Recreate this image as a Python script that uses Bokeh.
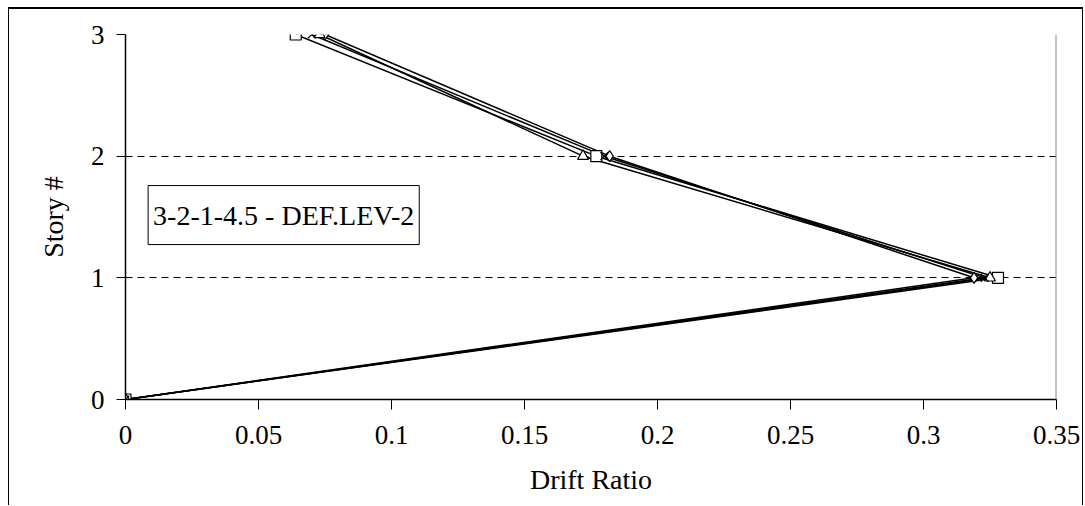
from bokeh.plotting import figure
from bokeh.models import FixedTicker, Label, Span, ColumnDataSource
from bokeh.embed import file_html
from bokeh.resources import INLINE

story = [0, 1, 2, 3]
drift_diamond = [0.0, 0.319, 0.182, 0.075]
drift_square = [0.0, 0.328, 0.177, 0.064]
drift_triangle = [0.0, 0.325, 0.172, 0.073]
drift_x = [0.0, 0.323, 0.180, 0.070]
x_ticks = [0, 0.05, 0.1, 0.15, 0.2, 0.25, 0.3, 0.35]
x_tick_labels = ["0", "0.05", "0.1", "0.15", "0.2", "0.25", "0.3", "0.35"]
y_ticks = [0, 1, 2, 3]
title_text = "3-2-1-4.5 - DEF.LEV-2"

FONT = "Liberation Serif"

p = figure(width=1075, height=498, output_backend="svg", toolbar_location=None,
           x_range=(0, 0.35), y_range=(0, 3),
           min_border_left=116, min_border_right=28, min_border_top=25, min_border_bottom=108)
p.margin = (7, 0, 0, 8)
p.styles = {"border-top": "2px solid black", "border-left": "1px solid black",
            "border-right": "1px solid black", "box-sizing": "border-box"}
p.outline_line_color = None
p.background_fill_color = "white"
p.border_fill_color = "white"

# grid
p.xgrid.grid_line_color = None
p.ygrid.grid_line_color = "black"
p.ygrid.grid_line_dash = "7 5"
p.ygrid.grid_line_width = 1

# axes
p.xaxis.ticker = FixedTicker(ticks=x_ticks)
p.xaxis.major_label_overrides = {t: l for t, l in zip(x_ticks, x_tick_labels)}
p.yaxis.ticker = FixedTicker(ticks=y_ticks)
for ax in (p.xaxis[0], p.yaxis[0]):
    ax.axis_line_color = "black"
    ax.axis_line_width = 1.5
    ax.major_tick_line_color = "black"
    ax.major_tick_in = 0
    ax.minor_tick_line_color = None
    ax.major_label_text_font = FONT
    ax.major_label_text_font_size = "27px"
    ax.major_label_text_color = "black"
    ax.axis_label_text_font = FONT
    ax.axis_label_text_font_size = "28px"
    ax.axis_label_text_font_style = "normal"
    ax.axis_label_text_color = "black"
p.xaxis.major_tick_out = 10
p.yaxis.major_tick_out = 9
p.xaxis.major_label_standoff = 16
p.yaxis.major_label_standoff = 12
p.xaxis.axis_label = "Drift Ratio"
p.yaxis.axis_label = "Story #"
p.xaxis.axis_label_standoff = 17
p.yaxis.axis_label_standoff = 19

# right border of plot area
p.add_layout(Span(location=0.35, dimension="height", line_color="#888888", line_width=2))

series = [
    (drift_diamond, "diamond"),
    (drift_square, "square"),
    (drift_triangle, "triangle"),
    (drift_x, "x"),
]
for vals, marker in series:
    src = ColumnDataSource(dict(x=vals, y=story))
    p.line("x", "y", source=src, line_color="black", line_width=1.5)
for vals, marker in series:
    src = ColumnDataSource(dict(x=vals, y=story))
    p.scatter("x", "y", source=src, marker=marker, size=11, line_color="black",
              fill_color="white", line_width=1.2)

lab = Label(x=0.0085, y=1.516, text=title_text, text_font=FONT, text_font_size="28px",
            text_baseline="middle", text_color="black",
            border_line_color="black", border_line_width=1,
            background_fill_color="white", padding=(5, 14))
p.add_layout(lab)

open("out.html", "w").write(file_html(p, INLINE))
